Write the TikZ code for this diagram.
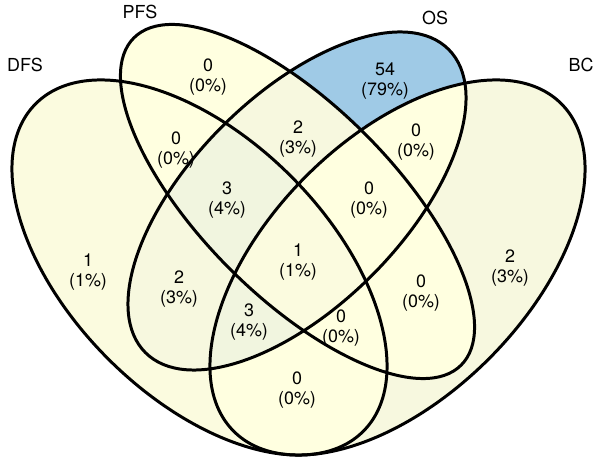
\documentclass[tikz,border=0pt]{standalone}
\usepackage{fontspec}
\setmainfont{TeX Gyre Heros}
\usepackage{xcolor}
\usepackage{tikz}
\usetikzlibrary{positioning}
\definecolor{vzero}{HTML}{FFFFE0}
\definecolor{vone}{HTML}{FBFBDF}
\definecolor{vtwo}{HTML}{F7F8DF}
\definecolor{vthree}{HTML}{F1F5DF}
\definecolor{vblue}{HTML}{9FCAE6}
\newcommand{\dfsEll}{(199.5,194.5) circle [x radius=231.6, y radius=129.2, rotate=-45]}
\newcommand{\pfsEll}{(297.5,260.5) circle [x radius=231.4, y radius=95.5, rotate=-45]}
\newcommand{\osEll}{(297,261) circle [x radius=214.4, y radius=105.6, rotate=45]}
\newcommand{\bcEll}{(397.5,194.5) circle [x radius=231.6, y radius=129.2, rotate=45]}
\tikzset{
  % Venn styles
  setline/.style={draw=black, line width=1.7pt},
  count/.style={align=center, inner sep=0pt, font=\fontsize{10.2}{11.6}\selectfont},
  setname/.style={inner sep=0pt, font=\fontsize{10.2}{12}\selectfont},
}
\begin{document}
\begin{tikzpicture}[x=0.02cm, y=0.02cm]
    \useasboundingbox (0,0) rectangle (598,462);

    % Base fills
    \fill[vone] \dfsEll;
    \fill[vtwo] \bcEll;
    \begin{scope}
      \clip \dfsEll;
      \fill[vzero] \bcEll;
    \end{scope}
    \fill[vzero] \pfsEll;
    \fill[vzero] \osEll;

    % Regions inside OS
    \begin{scope}
      \clip \osEll;
      \fill[vblue] \osEll;
      \fill[vtwo] \pfsEll;
      \fill[vtwo] \dfsEll;
      \fill[vzero] \bcEll;
      \begin{scope}
        \clip \dfsEll;
        \fill[vthree] \pfsEll;
        \fill[vthree] \bcEll;
        \begin{scope}
          \clip \pfsEll;
          \fill[vone] \bcEll;
        \end{scope}
      \end{scope}
    \end{scope}

    % Outlines
    \draw[setline] \dfsEll;
    \draw[setline] \pfsEll;
    \draw[setline] \osEll;
    \draw[setline] \bcEll;

    % Set names
    \node[setname] (dfs) at (25,397) {DFS};
    \node[setname] (pfs) at (140,450) {PFS};
    \node[setname] (os) at (435,444) {OS};
    \node[setname] (bc) at (581,397) {BC};

    % Counts
    \node[count] (onlyPfs) at (208,385) {0\\(0\%)};
    \node[count] (onlyOs) at (385,381) {54\\(79\%)};
    \node[count] (dfsPfs) at (176,312) {0\\(0\%)};
    \node[count] (pfsOs) at (298,323) {2\\(3\%)};
    \node[count] (osBc) at (416,320) {0\\(0\%)};
    \node[count] (dfsPfsOs) at (227,262) {3\\(4\%)};
    \node[count] (pfsOsBc) at (369,262) {0\\(0\%)};
    \node[count] (allSets) at (298,200) {1\\(1\%)};
    \node[count] (onlyDfs) at (88,190) {1\\(1\%)};
    \node[count] (dfsOs) at (179,173) {2\\(3\%)};
    \node[count] (dfsOsBc) at (249,140) {3\\(4\%)};
    \node[count] (dfsPfsBc) at (341,134) {0\\(0\%)};
    \node[count] (pfsBc) at (421,169) {0\\(0\%)};
    \node[count] (onlyBc) at (510,194) {2\\(3\%)};
    \node[count] (dfsBc) at (297,72) {0\\(0\%)};
  \end{tikzpicture}
\end{document}
